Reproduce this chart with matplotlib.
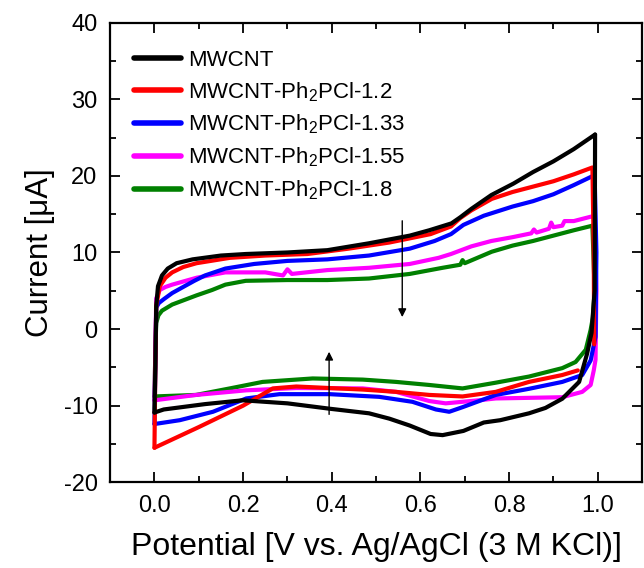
import numpy as np
import matplotlib
matplotlib.use("Agg")
import matplotlib.pyplot as plt

plt.rcParams['font.family'] = ['Liberation Sans', 'DejaVu Sans']
plt.rcParams['mathtext.fontset'] = 'custom'
plt.rcParams['mathtext.rm'] = 'Liberation Sans'
plt.rcParams['mathtext.it'] = 'Liberation Sans'
plt.rcParams['axes.unicode_minus'] = False

labels = ['MWCNT', r'MWCNT-Ph$_2$PCl-1.2', r'MWCNT-Ph$_2$PCl-1.33',
          r'MWCNT-Ph$_2$PCl-1.55', r'MWCNT-Ph$_2$PCl-1.8']
colors = ['black', 'red', 'blue', 'magenta', 'green']

# anodic sweep (0 -> 1 V)
fwd_v = [
    [0.0, 0.002, 0.004, 0.008, 0.017, 0.03, 0.05, 0.086, 0.15, 0.206, 0.3, 0.39, 0.484, 0.576, 0.62, 0.67, 0.69, 0.715, 0.76, 0.81, 0.854, 0.9, 0.946, 0.994],
    [0.0, 0.002, 0.004, 0.012, 0.025, 0.04, 0.065, 0.095, 0.17, 0.25, 0.345, 0.438, 0.53, 0.623, 0.669, 0.69, 0.715, 0.761, 0.808, 0.854, 0.9, 0.946, 0.988, 0.991, 0.992],
    [0.0, 0.002, 0.004, 0.01, 0.021, 0.04, 0.068, 0.09, 0.114, 0.16, 0.225, 0.3, 0.39, 0.484, 0.576, 0.632, 0.669, 0.697, 0.743, 0.808, 0.854, 0.9, 0.946, 0.993],
    [0.0, 0.002, 0.004, 0.012, 0.025, 0.04, 0.095, 0.16, 0.25, 0.29, 0.3, 0.31, 0.39, 0.484, 0.576, 0.641, 0.669, 0.715, 0.76, 0.808, 0.85, 0.856, 0.862, 0.89, 0.895, 0.9, 0.92, 0.925, 0.946, 0.993],
    [0.0, 0.002, 0.004, 0.009, 0.017, 0.04, 0.095, 0.13, 0.16, 0.206, 0.3, 0.39, 0.484, 0.576, 0.65, 0.69, 0.695, 0.7, 0.761, 0.808, 0.854, 0.9, 0.946, 0.988],
]
fwd_i = [
    [-10.9, -5.0, 3.0, 5.6, 7.0, 7.9, 8.6, 9.1, 9.6, 9.8, 10.0, 10.3, 11.2, 12.2, 12.9, 13.8, 14.6, 15.7, 17.5, 19.0, 20.5, 21.9, 23.5, 25.4],
    [-15.5, -5.0, 3.0, 5.6, 6.7, 7.4, 8.1, 8.6, 9.3, 9.6, 9.8, 10.5, 11.3, 12.4, 13.4, 14.5, 15.5, 17.0, 17.9, 18.6, 19.3, 20.2, 21.1, 10.0, -2.0],
    [-12.4, -5.0, 2.8, 3.4, 3.9, 4.7, 5.6, 6.3, 7.0, 7.9, 8.5, 8.9, 9.1, 9.6, 10.5, 11.5, 12.4, 13.6, 14.8, 16.0, 16.7, 17.6, 18.8, 20.1],
    [-9.3, -3.0, 4.0, 5.1, 5.5, 5.8, 6.7, 7.4, 7.4, 7.0, 7.8, 7.2, 7.7, 8.0, 8.5, 9.3, 9.8, 10.8, 11.5, 12.0, 12.5, 13.0, 12.6, 13.1, 13.9, 13.3, 13.5, 14.1, 14.1, 14.8],
    [-8.8, -3.0, 0.8, 1.8, 2.4, 3.2, 4.4, 5.1, 5.8, 6.3, 6.4, 6.4, 6.6, 7.2, 8.0, 8.4, 9.0, 8.6, 10.1, 10.9, 11.5, 12.2, 12.9, 13.5],
]

# cathodic sweep (1 -> 0 V)
rev_v = [
    [0.994, 0.993, 0.986, 0.976, 0.958, 0.92, 0.882, 0.845, 0.78, 0.743, 0.697, 0.65, 0.623, 0.576, 0.53, 0.484, 0.395, 0.3, 0.199, 0.114, 0.021, 0.0],
    [0.955, 0.92, 0.845, 0.77, 0.695, 0.62, 0.545, 0.47, 0.395, 0.32, 0.267, 0.2, 0.1, 0.0],
    [0.993, 0.997, 0.995, 0.984, 0.965, 0.92, 0.845, 0.77, 0.695, 0.665, 0.635, 0.582, 0.507, 0.395, 0.282, 0.207, 0.132, 0.057, 0.0],
    [0.993, 0.997, 0.995, 0.991, 0.984, 0.965, 0.92, 0.77, 0.732, 0.657, 0.62, 0.545, 0.47, 0.32, 0.207, 0.094, 0.0],
    [0.988, 0.993, 0.989, 0.984, 0.973, 0.95, 0.92, 0.845, 0.77, 0.695, 0.62, 0.545, 0.47, 0.357, 0.244, 0.17, 0.094, 0.0],
]
rev_i = [
    [25.4, 5.0, -0.5, -3.2, -6.9, -9.1, -10.3, -11.0, -11.9, -12.2, -13.3, -13.85, -13.7, -12.6, -11.7, -11.0, -10.4, -9.7, -9.3, -9.8, -10.5, -10.9],
    [-5.4, -6.0, -6.9, -8.2, -8.8, -8.6, -8.2, -7.9, -7.7, -7.5, -7.75, -10.0, -12.8, -15.5],
    [20.1, 10.0, -1.0, -4.1, -6.0, -6.9, -7.8, -8.6, -10.2, -10.8, -10.5, -9.5, -8.85, -8.5, -8.5, -9.06, -10.8, -11.9, -12.4],
    [14.8, 5.0, -4.0, -5.4, -7.3, -8.2, -8.9, -9.06, -9.3, -9.7, -9.4, -8.2, -7.75, -7.7, -8.0, -8.6, -9.3],
    [13.5, 5.0, 1.5, -0.1, -2.7, -4.3, -5.1, -6.2, -7.0, -7.75, -7.3, -6.9, -6.6, -6.45, -6.9, -7.75, -8.6, -8.8],
]

fig = plt.figure(figsize=(6.44, 5.68), dpi=100)
ax = fig.add_axes([0.171, 0.151, 0.826, 0.809])

# draw the thinnest loops first so the bare MWCNT trace sits on top
for k in [4, 3, 2, 1, 0]:
    ax.plot(fwd_v[k], fwd_i[k], color=colors[k], lw=3.0, solid_capstyle='round',
            solid_joinstyle='round', label=labels[k])
    ax.plot(rev_v[k], rev_i[k], color=colors[k], lw=3.0, solid_capstyle='round',
            solid_joinstyle='round')

handles, labs = ax.get_legend_handles_labels()
order = [labs.index(l) for l in labels]
leg = ax.legend([handles[i] for i in order], [labs[i] for i in order],
                loc='upper left', bbox_to_anchor=(0.007, 0.985), frameon=False,
                fontsize=16, handlelength=2.1, handletextpad=0.35, labelspacing=0.42)
for h in leg.get_lines():
    h.set_linewidth(4)

# arrows showing the trend with increasing Ph2PCl loading
ax.annotate('', xy=(0.559, 1.2), xytext=(0.559, 14.5),
            arrowprops=dict(arrowstyle='-|>', color='black', lw=1.0, mutation_scale=12))
ax.annotate('', xy=(0.394, -2.6), xytext=(0.394, -11.5),
            arrowprops=dict(arrowstyle='-|>', color='black', lw=1.0, mutation_scale=12))

ax.set_xlim(-0.1, 1.1)
ax.set_ylim(-20, 40)
ax.set_xticks([0.0, 0.2, 0.4, 0.6, 0.8, 1.0])
ax.set_xticks(np.arange(-0.1, 1.1, 0.1), minor=True)
ax.set_yticks(np.arange(-20, 41, 10))
ax.set_yticks(np.arange(-15, 40, 10), minor=True)
ax.xaxis.set_major_formatter(matplotlib.ticker.FormatStrFormatter('%.1f'))

ax.tick_params(which='both', direction='in', top=True, right=True, width=1.3,
               labelsize=17)
ax.tick_params(which='major', length=7, pad=9)
ax.tick_params(which='minor', length=4)
for s in ax.spines.values():
    s.set_linewidth(1.6)

ax.set_xlabel('Potential [V vs. Ag/AgCl (3 M KCl)]', fontsize=23, labelpad=11)
ax.set_ylabel('Current [\u03bcA]', fontsize=22.5, labelpad=6)

fig.savefig('out.png', dpi=100)
